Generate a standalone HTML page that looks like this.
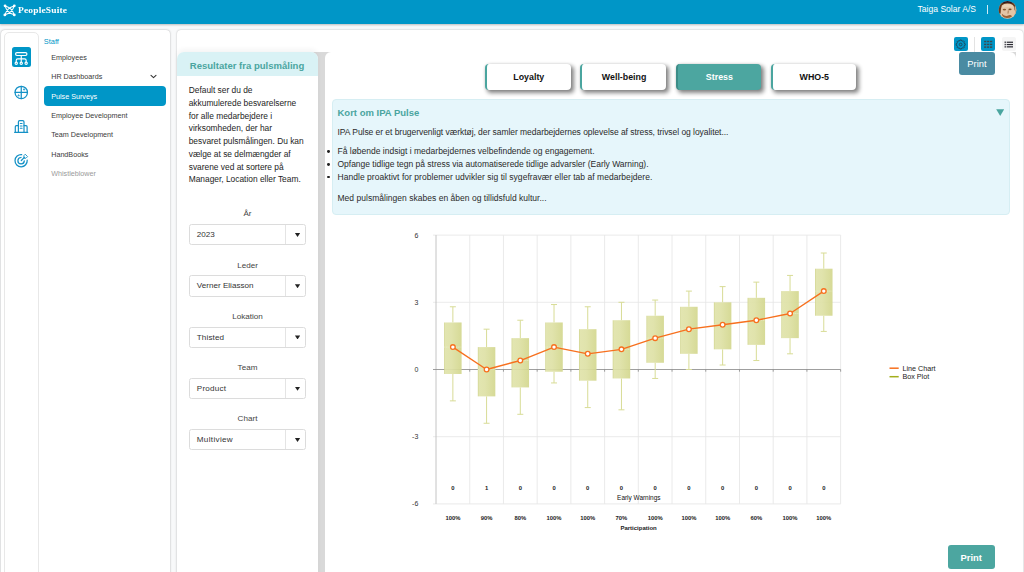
<!DOCTYPE html>
<html lang="da">
<head>
<meta charset="utf-8">
<title>PeopleSuite - Pulse Surveys</title>
<style>
*{box-sizing:border-box;margin:0;padding:0}
html,body{width:1024px;height:572px;overflow:hidden}
body{background:#f8f9fa;font-family:"Liberation Sans",sans-serif;color:#222;position:relative;-webkit-font-smoothing:antialiased}
.abs{position:absolute}
/* header */
#hdr{left:0;top:0;width:1024px;height:24px;background:#0096c7;box-shadow:0 1px 2px rgba(0,0,0,.25)}
#brand{left:17.6px;top:4.8px;font-family:"Liberation Serif",serif;font-weight:bold;font-size:8.4px;color:#fff;letter-spacing:.15px;line-height:11px;white-space:nowrap;transform:scaleX(1.13);transform-origin:0 50%}
#company{left:917.6px;top:3.7px;color:#fff;font-size:8.55px;line-height:11px;white-space:nowrap}
#hsep{left:987px;top:5px;width:1px;height:9px;background:#cfeaf4}
#avatar{left:998.5px;top:1.5px;width:17.5px;height:17.5px;border-radius:50%;overflow:hidden;background:#b88d72}
/* nav card */
#navcard{left:1px;top:30px;width:169.2px;height:560px;background:#fff;border-radius:4px;box-shadow:0 0 2px rgba(0,0,0,.34)}
#iconbar{left:3.6px;top:32px;width:35.4px;height:560px;background:#fff;border:1px solid #e8e8e8;border-radius:5px}
#icosel{left:11.6px;top:47.2px;width:19.5px;height:19.8px;background:#0096c7;border-radius:2.5px}
.nav{left:51.2px;font-size:7.2px;line-height:10px;color:#3a3a3a;white-space:nowrap}
#staff{left:43.8px;top:37.3px;font-size:7.4px;line-height:10px;color:#0096c7}
#navsel{left:44px;top:86px;width:122px;height:20px;background:#0096c7;border-radius:4px}
/* main card */
#maincard{left:177px;top:30px;width:846px;height:560px;background:#fff;border-radius:4px;box-shadow:0 0 2px rgba(0,0,0,.28)}

/* toolbar */
.tbtn{top:37px;width:14.5px;height:14.2px;border-radius:2px;background:#0096c7}
#tsep{left:974px;top:37px;width:1px;height:15px;background:#e3e3e3}
#tprint{left:959px;top:52px;width:36px;height:22.8px;border-radius:3px;background:#4a8ba2;color:#fff;font-size:9.4px;line-height:23.4px;text-align:center}
/* grey container and inner panels */
#grey{left:300px;top:52px;width:716px;height:540px;background:#d9d9d9}
#filter{left:177px;top:52px;width:141px;height:540px;background:#fff;border-radius:7px 7px 0 0;overflow:hidden;box-shadow:0 -3px 5px rgba(0,0,0,.045)}
#fhead{left:0;top:0;width:141px;height:24px;background:#d9f2f5}
#ftitle{left:12.8px;top:7.7px;font-weight:bold;font-size:9.54px;line-height:12px;color:#4aa59f;white-space:nowrap}
#fbody{left:11.7px;top:32.1px;font-size:8.38px;line-height:12.75px;color:#1d1d1d;white-space:nowrap}
.flabel{left:0;width:141px;text-align:center;font-size:8.1px;line-height:10px;color:#444;margin-top:.3px}
.dd{left:11.5px;width:117.5px;height:21.3px;border:1px solid #dcdcdc;border-radius:2.5px;background:#fff;font-size:8.1px;line-height:20px;color:#333;padding-left:7.3px;white-space:nowrap;margin-top:-.3px}
.dd:before{content:"";position:absolute;left:95.8px;top:0;width:1px;height:19.3px;background:#e4e4e4}
.dd:after{content:"";position:absolute;left:105.4px;top:7.9px;width:5.3px;height:4px;background:#222;clip-path:polygon(0 0,100% 0,50% 100%)}
#content{left:325px;top:52px;width:691px;height:540px;background:#fff;border-radius:6px 6px 0 0}

/* tabs */
.tab{top:64px;width:85.6px;height:26px;border-radius:4px;background:#fff;border-left:2.4px solid #4aa59f;box-shadow:2.2px 2.8px 4.5px rgba(0,0,0,.48),0 0 3px rgba(0,0,0,.10);font-weight:bold;font-size:8.85px;line-height:27.8px;text-align:center;color:#111;white-space:nowrap}
.tab.on{background:#4ca6a0;border-left-color:#3b8c87;color:#fff}
/* info box */
#info{left:331.5px;top:99px;width:678.5px;height:116px;background:#e6f6fb;border:1px solid #d6eef3;border-radius:4px}
#ititle{left:337.5px;top:106.5px;font-weight:bold;font-size:9.5px;line-height:12px;color:#4aa59f;white-space:nowrap}
.ip{left:337.5px;font-size:8.5px;line-height:10px;color:#2a2a2a;white-space:nowrap}
.bul{left:326.9px;width:2.9px;height:2.9px;border-radius:50%;background:#222}
#itri{left:996.2px;top:109.2px;width:8px;height:6.7px;background:#4aa59f;clip-path:polygon(0 0,100% 0,50% 100%)}
#bprint{left:948px;top:545px;width:46.5px;height:23.5px;border-radius:3px;background:#4ca6a0;color:#fff;font-weight:bold;font-size:9.4px;line-height:25.4px;text-align:center}
</style>
</head>
<body>
<!-- HEADER -->
<div id="hdr" class="abs"></div>
<svg class="abs" style="left:0;top:0" width="24" height="22" viewBox="0 0 24 22" fill="none" stroke="#fff" stroke-linecap="round">
  <path d="M5.1 5.9Q12.3 7.7 14.2 14.8 M5.1 5.9Q7 13 14.2 14.8 M14.2 5.9Q6.9 7.7 4.9 14.8 M14.2 5.9Q12.2 13 4.9 14.8" stroke-width="1.05"/>
  <circle cx="5.05" cy="5.8" r="1.4" fill="#fff" stroke="none"/><circle cx="14.3" cy="5.8" r="1.4" fill="#fff" stroke="none"/>
  <circle cx="4.85" cy="14.9" r="1.4" fill="#fff" stroke="none"/><circle cx="14.3" cy="14.9" r="1.4" fill="#fff" stroke="none"/>
</svg>
<div id="brand" class="abs">PeopleSuite</div>
<div id="company" class="abs">Taiga Solar A/S</div>
<div id="hsep" class="abs"></div>
<svg class="abs" style="left:994px;top:0" width="28" height="22" viewBox="994 0 28 22">
  <defs><clipPath id="avc"><circle cx="1007.5" cy="9.9" r="8.9"/></clipPath>
  <filter id="avb" x="-20%" y="-20%" width="140%" height="140%"><feGaussianBlur stdDeviation="0.55"/></filter></defs>
  <g clip-path="url(#avc)">
    <rect x="996" y="0" width="24" height="22" fill="#e3c5a6"/>
    <g filter="url(#avb)">
      <path d="M997.5 14.5 Q997 3 1004 1.6 Q1010 -0.5 1014.5 3.2 Q1017.8 7 1016.5 13 L1014.6 10 Q1014.6 4.6 1010 3.8 Q1004 3 1001.8 5.6 Q1000.6 9 1000.6 13.4 Z" fill="#65381a"/>
      <path d="M1001 1.4 Q1007.5 -1.4 1014 1.6 L1012 3.4 Q1007 1.8 1003 3.4Z" fill="#241626"/>
      <ellipse cx="1004.4" cy="9.6" rx="1.7" ry="0.85" fill="#8a5a34"/>
      <ellipse cx="1010" cy="9.3" rx="1.6" ry="0.85" fill="#7c4c28"/>
      <path d="M1008.3 10.4 L1008 13.6" stroke="#a87850" stroke-width="1"/>
      <path d="M1001.8 13.4 Q1004.5 17.2 1008.8 15.2 Q1011.2 14.6 1012 16.4 Q1008.5 18.8 1004.2 17.6 Q1001.8 16 1001.8 13.4Z" fill="#9a6238"/>
      <path d="M1015.4 6 Q1017.6 9 1016.4 14.5 L1014.6 15.5 Q1015.6 10 1014.6 6.5Z" fill="#c9a88c"/>
      <path d="M1002.6 5.4 Q1007 3.4 1012.6 5.2 L1012.8 7.6 Q1007 6.2 1002.4 7.8Z" fill="#ecd2b4"/>
    </g>
  </g>
</svg>

<!-- NAV CARD -->
<div id="navcard" class="abs"></div>
<div id="iconbar" class="abs"></div>
<div id="icosel" class="abs"></div>
<div id="staff" class="abs">Staff</div>
<div id="navsel" class="abs"></div>
<div class="abs nav" style="top:52.8px">Employees</div>
<div class="abs nav" style="top:72.2px">HR Dashboards</div>
<div class="abs nav" style="top:91.8px;color:#fff">Pulse Surveys</div>
<div class="abs nav" style="top:111.0px">Employee Development</div>
<div class="abs nav" style="top:130.4px">Team Development</div>
<div class="abs nav" style="top:149.8px">HandBooks</div>
<div class="abs nav" style="top:169.2px;color:#9a9a9a">Whistleblower</div>


<!-- NAV ICONS -->
<svg class="abs" style="left:0;top:30px" width="176" height="160" viewBox="0 30 176 160" fill="none" stroke-linecap="round" stroke-linejoin="round">
  <!-- org chart (selected) -->
  <g stroke="#fff" stroke-width="1.15">
    <rect x="15.55" y="52.65" width="11.4" height="2.8" rx="1.4"/>
    <path d="M21.25 55.6V61.7 M16.25 61.8V60.3Q16.25 58.8 17.75 58.8H24.65Q26.15 58.8 26.15 60.3V61.8"/>
    <circle cx="16.25" cy="63.3" r="1.15"/><circle cx="21.25" cy="63.3" r="1.15"/><circle cx="26.15" cy="63.3" r="1.15"/>
  </g>
  <!-- globe/quadrant -->
  <g stroke="#1491c6" stroke-width="1.25">
    <circle cx="21.25" cy="92.45" r="6.2"/>
    <path d="M21.25 86.3V98.6 M15.1 92.45H27.4"/>
    <path d="M23.4 89.4L24.1 90.3L24.8 89.4Z M18 95.6L18.6 94.6L19.2 95.6Z" stroke-width="0.7" fill="#1491c6"/>
  </g>
  <!-- building -->
  <g stroke="#1491c6" stroke-width="1.2">
    <path d="M18.4 132.2V122Q18.4 120.7 19.7 120.7H22.7Q24 120.7 24 122V132.2"/>
    <path d="M18.4 125.6H16.4Q15.3 125.6 15.3 126.7V132.2 M24 125.6H26Q27.1 125.6 27.1 126.7V132.2 M14.6 132.3H27.8"/>
    <path d="M20.3 123.5H22.1 M20.3 125.9H22.1 M20.3 128.3H22.1" stroke-width="1.05"/>
  </g>
  <!-- target -->
  <g stroke="#1491c6" stroke-width="1.25">
    <path d="M27.2 160.2A6.1 6.1 0 1 1 21.7 154.6"/>
    <path d="M24.3 160.9A3.2 3.2 0 1 1 21 157.5"/>
    <path d="M21.3 160.5L24.4 157.4"/>
    <path d="M25.5 154.5L27.6 156.6L26 158.2H23.9V156.1Z" stroke-width="0.9"/>
  </g>
  <!-- chevron -->
  <path d="M151 75.3L153.5 77.7L156 75.3" stroke="#333" stroke-width="1.05"/>
</svg>

<!-- MAIN CARD -->
<div id="maincard" class="abs"></div>

<!-- TOOLBAR -->
<div class="abs tbtn" style="left:953.7px;width:14.2px"></div>
<div id="tsep" class="abs"></div>
<div class="abs tbtn" style="left:981px;width:14px"></div>
<div class="abs tbtn" style="left:1002px;width:14px;background:#f5f5f5"></div>
<svg class="abs" style="left:948px;top:32px" width="72" height="24" viewBox="948 32 72 24">
  <path d="M959.88 40.02 L961.44 40.02 L961.71 40.90 L962.47 41.21 L963.28 40.78 L964.38 41.88 L963.95 42.69 L964.26 43.45 L965.14 43.72 L965.14 45.28 L964.26 45.55 L963.95 46.31 L964.38 47.12 L963.28 48.22 L962.47 47.79 L961.71 48.10 L961.44 48.98 L959.88 48.98 L959.61 48.10 L958.85 47.79 L958.04 48.22 L956.94 47.12 L957.37 46.31 L957.06 45.55 L956.18 45.28 L956.18 43.72 L957.06 43.45 L957.37 42.69 L956.94 41.88 L958.04 40.78 L958.85 41.21 L959.61 40.90Z" fill="none" stroke="#1d4a62" stroke-width="1" stroke-linejoin="round"/>
  <circle cx="960.66" cy="44.5" r="1.35" fill="none" stroke="#1d4a62" stroke-width="1"/>
  <g fill="#3b4a50">
    <rect x="984.1" y="40.8" width="2.25" height="1.45"/><rect x="987.05" y="40.8" width="2.25" height="1.45"/><rect x="990" y="40.8" width="2.25" height="1.45"/>
    <rect x="984.1" y="43.7" width="2.25" height="1.45"/><rect x="987.05" y="43.7" width="2.25" height="1.45"/><rect x="990" y="43.7" width="2.25" height="1.45"/>
    <rect x="984.1" y="46.4" width="2.25" height="1.45"/><rect x="987.05" y="46.4" width="2.25" height="1.45"/><rect x="990" y="46.4" width="2.25" height="1.45"/>
  </g>
  <g fill="#2d2d35">
    <rect x="1004.6" y="41.5" width="1.2" height="1.5"/><rect x="1006.7" y="41.65" width="6.3" height="1.2"/>
    <rect x="1004.6" y="43.8" width="1.2" height="1.5"/><rect x="1006.7" y="43.95" width="6.3" height="1.2"/>
    <rect x="1004.6" y="46.1" width="1.2" height="1.5"/><rect x="1006.7" y="46.25" width="6.3" height="1.2"/>
  </g>
</svg>

<!-- GREY CONTAINER -->
<div id="grey" class="abs"></div>
<div id="filter" class="abs">
  <div id="fhead" class="abs"></div>
  <div id="ftitle" class="abs">Resultater fra pulsmåling</div>
  <div id="fbody" class="abs">Default ser du de<br>akkumulerede besvarelserne<br>for alle medarbejdere i<br>virksomheden, der har<br>besvaret pulsmålingen. Du kan<br>vælge at se delmængder af<br>svarene ved at sortere på<br>Manager, Location eller Team.</div>
  <div class="abs flabel" style="top:157.00px">År</div>
  <div class="abs dd" style="top:172.40px">2023</div>
  <div class="abs flabel" style="top:208.25px">Leder</div>
  <div class="abs dd" style="top:223.65px">Verner Eliasson</div>
  <div class="abs flabel" style="top:259.50px">Lokation</div>
  <div class="abs dd" style="top:274.90px;letter-spacing:.13px">Thisted</div>
  <div class="abs flabel" style="top:310.75px">Team</div>
  <div class="abs dd" style="top:326.15px;letter-spacing:.23px">Product</div>
  <div class="abs flabel" style="top:362.00px">Chart</div>
  <div class="abs dd" style="top:377.40px;letter-spacing:.33px">Multiview</div>
</div>
<div id="content" class="abs"></div>
<div id="tprint" class="abs">Print</div>

<!-- TABS -->
<div class="abs tab" style="left:485px">Loyalty</div>
<div class="abs tab" style="left:580.3px">Well-being</div>
<div class="abs tab on" style="left:675.6px">Stress</div>
<div class="abs tab" style="left:770.5px">WHO-5</div>

<!-- INFO BOX -->
<div id="info" class="abs"></div>
<div id="ititle" class="abs">Kort om IPA Pulse</div>
<div id="itri" class="abs"></div>
<div class="abs ip" style="top:127px;letter-spacing:-.049px">IPA Pulse er et brugervenligt værktøj, der samler medarbejdernes oplevelse af stress, trivsel og loyalitet...</div>
<div class="abs bul" style="top:149.7px"></div>
<div class="abs ip" style="top:145.9px">Få løbende indsigt i medarbejdernes velbefindende og engagement.</div>
<div class="abs bul" style="top:162.8px"></div>
<div class="abs ip" style="top:159.2px;letter-spacing:-.017px">Opfange tidlige tegn på stress via automatiserede tidlige advarsler (Early Warning).</div>
<div class="abs bul" style="top:175.5px"></div>
<div class="abs ip" style="top:171.9px;letter-spacing:.036px">Handle proaktivt for problemer udvikler sig til sygefravær eller tab af medarbejdere.</div>
<div class="abs ip" style="top:192.5px;letter-spacing:.022px">Med pulsmålingen skabes en åben og tillidsfuld kultur...</div>

<!-- CHART -->
<svg class="abs" style="left:400px;top:225px" width="560" height="315" viewBox="400 225 560 315" font-family="Liberation Sans, sans-serif">
<defs><linearGradient id="bg" x1="0" x2="1" y1="0" y2="0"><stop offset="0" stop-color="#ccd084"/><stop offset=".07" stop-color="#e0e3aa"/><stop offset=".4" stop-color="#dee1a6"/><stop offset="1" stop-color="#d3d78e"/></linearGradient></defs>
<path d="M433.0 235.1H840.64 M433.0 302.3H840.64 M433.0 436.7H840.64 M433.0 503.9H840.64 M469.72 235.1V503.9 M503.44 235.1V503.9 M537.16 235.1V503.9 M570.88 235.1V503.9 M604.6 235.1V503.9 M638.32 235.1V503.9 M672.04 235.1V503.9 M705.76 235.1V503.9 M739.48 235.1V503.9 M773.2 235.1V503.9 M806.92 235.1V503.9 M840.64 235.1V503.9" stroke="#e6e6e6" stroke-width="0.85" fill="none"/>
<path d="M436.0 235.1V503.9" stroke="#bdbdbd" stroke-width="0.9" fill="none"/>
<path d="M433.0 369.5H840.64 M469.72 369.5V371.7 M503.44 369.5V371.7 M537.16 369.5V371.7 M570.88 369.5V371.7 M604.6 369.5V371.7 M638.32 369.5V371.7 M672.04 369.5V371.7 M705.76 369.5V371.7 M739.48 369.5V371.7 M773.2 369.5V371.7 M806.92 369.5V371.7 M840.64 369.5V371.7" stroke="#8e8e8e" stroke-width="0.85" fill="none"/>
<text x="418.3" y="237.6" font-size="7" text-anchor="end" fill="#333">6</text>
<text x="418.3" y="304.8" font-size="7" text-anchor="end" fill="#333">3</text>
<text x="418.3" y="372.0" font-size="7" text-anchor="end" fill="#333">0</text>
<text x="418.3" y="439.2" font-size="7" text-anchor="end" fill="#333">-3</text>
<text x="418.3" y="506.4" font-size="7" text-anchor="end" fill="#333">-6</text>
<path d="M452.86 306.78V322.46M452.86 373.98V400.86M449.86 306.78H455.86M449.86 400.86H455.86" stroke="#d8dc96" stroke-width="1" fill="none"/>
<rect x="444.11" y="322.46" width="17.5" height="51.52" fill="url(#bg)" fill-opacity=".93"/>
<path d="M444.11 347.1H461.61" stroke="#eef0d2" stroke-width="0.6" stroke-dasharray="1.2 .5"/>
<path d="M486.58 329.18V347.1M486.58 396.38V423.26M483.58 329.18H489.58M483.58 423.26H489.58" stroke="#d8dc96" stroke-width="1" fill="none"/>
<rect x="477.83" y="347.1" width="17.5" height="49.28" fill="url(#bg)" fill-opacity=".93"/>
<path d="M477.83 369.5H495.33" stroke="#eef0d2" stroke-width="0.6" stroke-dasharray="1.2 .5"/>
<path d="M520.3 320.22V338.14M520.3 387.42V414.3M517.3 320.22H523.3M517.3 414.3H523.3" stroke="#d8dc96" stroke-width="1" fill="none"/>
<rect x="511.55" y="338.14" width="17.5" height="49.28" fill="url(#bg)" fill-opacity=".93"/>
<path d="M511.55 360.54H529.05" stroke="#eef0d2" stroke-width="0.6" stroke-dasharray="1.2 .5"/>
<path d="M554.02 304.54V322.46M554.02 371.74V382.94M551.02 304.54H557.02M551.02 382.94H557.02" stroke="#d8dc96" stroke-width="1" fill="none"/>
<rect x="545.27" y="322.46" width="17.5" height="49.28" fill="url(#bg)" fill-opacity=".93"/>
<path d="M545.27 347.1H562.77" stroke="#eef0d2" stroke-width="0.6" stroke-dasharray="1.2 .5"/>
<path d="M587.74 306.78V329.18M587.74 380.7V407.58M584.74 306.78H590.74M584.74 407.58H590.74" stroke="#d8dc96" stroke-width="1" fill="none"/>
<rect x="578.99" y="329.18" width="17.5" height="51.52" fill="url(#bg)" fill-opacity=".93"/>
<path d="M578.99 353.82H596.49" stroke="#eef0d2" stroke-width="0.6" stroke-dasharray="1.2 .5"/>
<path d="M621.46 302.3V320.22M621.46 378.46V409.82M618.46 302.3H624.46M618.46 409.82H624.46" stroke="#d8dc96" stroke-width="1" fill="none"/>
<rect x="612.71" y="320.22" width="17.5" height="58.24" fill="url(#bg)" fill-opacity=".93"/>
<path d="M612.71 349.34H630.21" stroke="#eef0d2" stroke-width="0.6" stroke-dasharray="1.2 .5"/>
<path d="M655.18 300.06V315.74M655.18 362.78V378.46M652.18 300.06H658.18M652.18 378.46H658.18" stroke="#d8dc96" stroke-width="1" fill="none"/>
<rect x="646.43" y="315.74" width="17.5" height="47.04" fill="url(#bg)" fill-opacity=".93"/>
<path d="M646.43 338.14H663.93" stroke="#eef0d2" stroke-width="0.6" stroke-dasharray="1.2 .5"/>
<path d="M688.9 291.1V306.78M688.9 353.82V369.5M685.9 291.1H691.9M685.9 369.5H691.9" stroke="#d8dc96" stroke-width="1" fill="none"/>
<rect x="680.15" y="306.78" width="17.5" height="47.04" fill="url(#bg)" fill-opacity=".93"/>
<path d="M680.15 329.18H697.65" stroke="#eef0d2" stroke-width="0.6" stroke-dasharray="1.2 .5"/>
<path d="M722.62 286.62V302.3M722.62 349.34V365.02M719.62 286.62H725.62M719.62 365.02H725.62" stroke="#d8dc96" stroke-width="1" fill="none"/>
<rect x="713.87" y="302.3" width="17.5" height="47.04" fill="url(#bg)" fill-opacity=".93"/>
<path d="M713.87 324.7H731.37" stroke="#eef0d2" stroke-width="0.6" stroke-dasharray="1.2 .5"/>
<path d="M756.34 282.14V297.82M756.34 344.86V360.54M753.34 282.14H759.34M753.34 360.54H759.34" stroke="#d8dc96" stroke-width="1" fill="none"/>
<rect x="747.59" y="297.82" width="17.5" height="47.04" fill="url(#bg)" fill-opacity=".93"/>
<path d="M747.59 320.22H765.09" stroke="#eef0d2" stroke-width="0.6" stroke-dasharray="1.2 .5"/>
<path d="M790.06 275.42V291.1M790.06 338.14V353.82M787.06 275.42H793.06M787.06 353.82H793.06" stroke="#d8dc96" stroke-width="1" fill="none"/>
<rect x="781.31" y="291.1" width="17.5" height="47.04" fill="url(#bg)" fill-opacity=".93"/>
<path d="M781.31 313.5H798.81" stroke="#eef0d2" stroke-width="0.6" stroke-dasharray="1.2 .5"/>
<path d="M823.78 253.02V268.7M823.78 315.74V331.42M820.78 253.02H826.78M820.78 331.42H826.78" stroke="#d8dc96" stroke-width="1" fill="none"/>
<rect x="815.03" y="268.7" width="17.5" height="47.04" fill="url(#bg)" fill-opacity=".93"/>
<path d="M815.03 291.1H832.53" stroke="#eef0d2" stroke-width="0.6" stroke-dasharray="1.2 .5"/>
<polyline points="452.86,347.1 486.58,369.5 520.3,360.54 554.02,347.1 587.74,353.82 621.46,349.34 655.18,338.14 688.9,329.18 722.62,324.7 756.34,320.22 790.06,313.5 823.78,291.1" fill="none" stroke="#f7701e" stroke-width="1.4" stroke-linejoin="round"/>
<circle cx="452.86" cy="347.1" r="2.35" fill="#fff" stroke="#f7701e" stroke-width="1.3"/>
<circle cx="486.58" cy="369.5" r="2.35" fill="#fff" stroke="#f7701e" stroke-width="1.3"/>
<circle cx="520.3" cy="360.54" r="2.35" fill="#fff" stroke="#f7701e" stroke-width="1.3"/>
<circle cx="554.02" cy="347.1" r="2.35" fill="#fff" stroke="#f7701e" stroke-width="1.3"/>
<circle cx="587.74" cy="353.82" r="2.35" fill="#fff" stroke="#f7701e" stroke-width="1.3"/>
<circle cx="621.46" cy="349.34" r="2.35" fill="#fff" stroke="#f7701e" stroke-width="1.3"/>
<circle cx="655.18" cy="338.14" r="2.35" fill="#fff" stroke="#f7701e" stroke-width="1.3"/>
<circle cx="688.9" cy="329.18" r="2.35" fill="#fff" stroke="#f7701e" stroke-width="1.3"/>
<circle cx="722.62" cy="324.7" r="2.35" fill="#fff" stroke="#f7701e" stroke-width="1.3"/>
<circle cx="756.34" cy="320.22" r="2.35" fill="#fff" stroke="#f7701e" stroke-width="1.3"/>
<circle cx="790.06" cy="313.5" r="2.35" fill="#fff" stroke="#f7701e" stroke-width="1.3"/>
<circle cx="823.78" cy="291.1" r="2.35" fill="#fff" stroke="#f7701e" stroke-width="1.3"/>
<text x="452.86" y="489.9" font-size="5.85" font-weight="bold" text-anchor="middle" fill="#222">0</text>
<text x="452.86" y="520.4" font-size="5.85" font-weight="bold" text-anchor="middle" fill="#222">100%</text>
<text x="486.58" y="489.9" font-size="5.85" font-weight="bold" text-anchor="middle" fill="#222">1</text>
<text x="486.58" y="520.4" font-size="5.85" font-weight="bold" text-anchor="middle" fill="#222">90%</text>
<text x="520.3" y="489.9" font-size="5.85" font-weight="bold" text-anchor="middle" fill="#222">0</text>
<text x="520.3" y="520.4" font-size="5.85" font-weight="bold" text-anchor="middle" fill="#222">80%</text>
<text x="554.02" y="489.9" font-size="5.85" font-weight="bold" text-anchor="middle" fill="#222">0</text>
<text x="554.02" y="520.4" font-size="5.85" font-weight="bold" text-anchor="middle" fill="#222">100%</text>
<text x="587.74" y="489.9" font-size="5.85" font-weight="bold" text-anchor="middle" fill="#222">0</text>
<text x="587.74" y="520.4" font-size="5.85" font-weight="bold" text-anchor="middle" fill="#222">100%</text>
<text x="621.46" y="489.9" font-size="5.85" font-weight="bold" text-anchor="middle" fill="#222">0</text>
<text x="621.46" y="520.4" font-size="5.85" font-weight="bold" text-anchor="middle" fill="#222">70%</text>
<text x="655.18" y="489.9" font-size="5.85" font-weight="bold" text-anchor="middle" fill="#222">0</text>
<text x="655.18" y="520.4" font-size="5.85" font-weight="bold" text-anchor="middle" fill="#222">100%</text>
<text x="688.9" y="489.9" font-size="5.85" font-weight="bold" text-anchor="middle" fill="#222">0</text>
<text x="688.9" y="520.4" font-size="5.85" font-weight="bold" text-anchor="middle" fill="#222">100%</text>
<text x="722.62" y="489.9" font-size="5.85" font-weight="bold" text-anchor="middle" fill="#222">0</text>
<text x="722.62" y="520.4" font-size="5.85" font-weight="bold" text-anchor="middle" fill="#222">100%</text>
<text x="756.34" y="489.9" font-size="5.85" font-weight="bold" text-anchor="middle" fill="#222">0</text>
<text x="756.34" y="520.4" font-size="5.85" font-weight="bold" text-anchor="middle" fill="#222">60%</text>
<text x="790.06" y="489.9" font-size="5.85" font-weight="bold" text-anchor="middle" fill="#222">0</text>
<text x="790.06" y="520.4" font-size="5.85" font-weight="bold" text-anchor="middle" fill="#222">100%</text>
<text x="823.78" y="489.9" font-size="5.85" font-weight="bold" text-anchor="middle" fill="#222">0</text>
<text x="823.78" y="520.4" font-size="5.85" font-weight="bold" text-anchor="middle" fill="#222">100%</text>
<text x="638.8" y="499.7" font-size="6.45" text-anchor="middle" fill="#111">Early Warnings</text>
<text x="638.6" y="529.9" font-size="6.0" font-weight="bold" text-anchor="middle" fill="#222">Participation</text>
<path d="M889.5 368.2H898.7" stroke="#f7701e" stroke-width="1.5"/>
<path d="M889.5 376.7H898.7" stroke="#a3ae1c" stroke-width="1.5"/>
<text x="902.4" y="370.7" font-size="7.2" fill="#222">Line Chart</text>
<text x="902.4" y="379.2" font-size="7.2" fill="#222">Box Plot</text>
</svg>
<div id="bprint" class="abs">Print</div>

</body>
</html>
